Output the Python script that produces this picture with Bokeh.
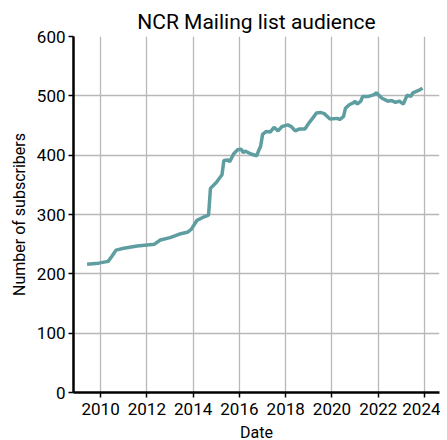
import pandas as pd
from bokeh.plotting import figure
from bokeh.models import FixedTicker, DatetimeTickFormatter, Range1d
from bokeh.embed import file_html
from bokeh.resources import INLINE

dates = ["2009-06", "2009-12", "2010-05", "2010-07", "2010-09", "2011-01", "2011-08",
         "2012-05", "2012-08", "2013-01", "2013-06", "2013-10", "2013-12", "2014-03",
         "2014-06", "2014-09", "2014-10", "2015-01", "2015-04", "2015-05", "2015-07",
         "2015-08", "2015-10", "2015-12", "2016-02", "2016-03", "2016-04", "2016-07",
         "2016-10", "2016-11", "2016-12", "2017-01", "2017-03", "2017-05", "2017-07",
         "2017-09", "2017-11", "2018-02", "2018-04", "2018-06", "2018-08", "2018-11",
         "2019-01", "2019-03", "2019-05", "2019-07", "2019-09", "2019-12", "2020-04",
         "2020-05", "2020-07", "2020-08", "2020-10", "2020-12", "2021-01", "2021-02",
         "2021-04", "2021-05", "2021-08", "2021-11", "2021-12", "2022-03", "2022-06",
         "2022-08", "2022-10", "2022-12", "2023-02", "2023-04", "2023-06", "2023-07",
         "2023-10", "2023-12"]
subscribers = [216, 218, 221, 230, 240, 243, 247,
               250, 257, 261, 267, 270, 275, 290,
               295, 299, 344, 354, 367, 391, 392,
               389, 402, 409, 410, 404, 407, 402,
               399, 408, 415, 435, 440, 439, 447,
               441, 448, 451, 448, 441, 444, 444,
               454, 462, 471, 472, 470, 461, 462,
               460, 465, 479, 485, 488, 491, 486,
               491, 499, 499, 502, 505, 496, 491,
               492, 489, 491, 486, 501, 499, 505,
               509, 513]
x_tick_years = [2010, 2012, 2014, 2016, 2018, 2020, 2022, 2024]
y_ticks = [0, 100, 200, 300, 400, 500, 600]

x = pd.to_datetime(dates)

def ms(ts):
    return pd.Timestamp(ts).value / 1e6

FONT = "Roboto"

p = figure(
    output_backend="svg", toolbar_location=None,
    x_axis_type="datetime",
    frame_width=366, frame_height=356,
    min_border_left=73, min_border_top=36, min_border_bottom=47, min_border_right=1,
    title="NCR Mailing list audience",
)
p.x_range = Range1d(ms("2008-10-30"), ms("2024-08-25"))
p.y_range = Range1d(0, 600)

p.line(x, subscribers, line_color="#5F9EA0", line_width=3.5)

p.title.text_font = FONT
p.title.text_font_size = "21px"
p.title.text_font_style = "normal"
p.title.align = "center"
p.title.text_color = "black"
p.title.standoff = 5

p.xaxis.ticker = FixedTicker(ticks=[ms(f"{y}-01-01") for y in x_tick_years])
p.xaxis.formatter = DatetimeTickFormatter(years="%Y", months="%Y", days="%Y",
                                          hours="%Y", minutes="%Y", seconds="%Y")
p.yaxis.ticker = FixedTicker(ticks=y_ticks)

p.xaxis.axis_label = "Date"
p.yaxis.axis_label = "Number of subscribers"

for ax in (p.xaxis[0], p.yaxis[0]):
    ax.axis_line_color = "black"
    ax.axis_line_width = 2.5
    ax.major_tick_line_color = "black"
    ax.major_tick_line_width = 1.5
    ax.major_tick_out = 5
    ax.major_tick_in = 0
    ax.minor_tick_line_color = None
    ax.major_label_text_font = FONT
    ax.major_label_text_font_size = "17px"
    ax.major_label_text_color = "black"
    ax.axis_label_text_font = FONT
    ax.axis_label_text_font_size = "16px"
    ax.axis_label_text_font_style = "normal"
    ax.axis_label_text_color = "black"
    ax.axis_label_standoff = 5

p.xaxis.major_label_standoff = 5
p.yaxis.major_label_standoff = 3

p.grid.grid_line_color = "#b8b8b8"
p.grid.grid_line_width = 1.3
p.outline_line_color = None
p.background_fill_color = "white"
p.border_fill_color = "white"

open("out.html", "w").write(file_html(p, INLINE))
